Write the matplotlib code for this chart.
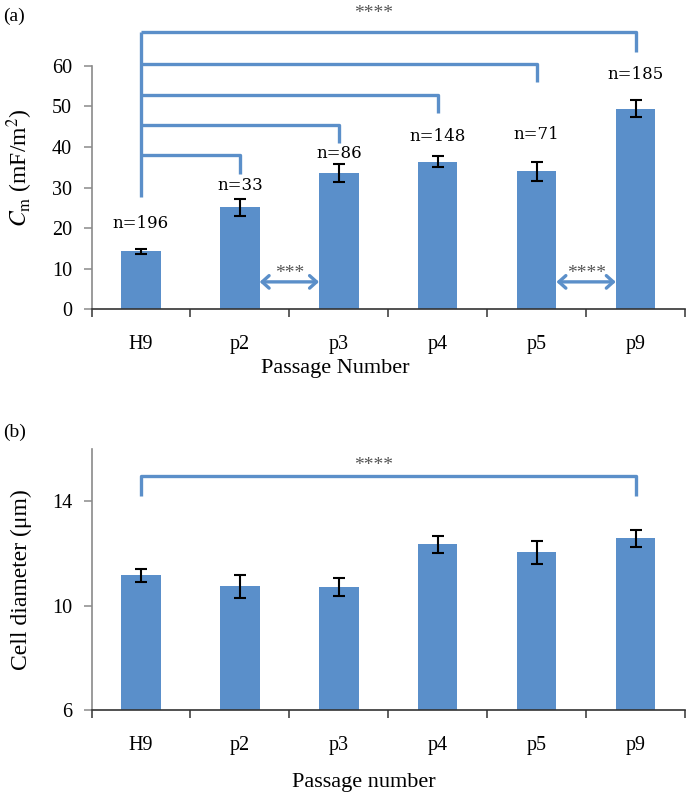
import matplotlib
matplotlib.use("Agg")
from matplotlib import pyplot as plt
import numpy as np

plt.rcParams["font.family"] = ["Liberation Serif", "DejaVu Serif"]
plt.rcParams["mathtext.fontset"] = "stix"

passages = ["H9", "p2", "p3", "p4", "p5", "p9"]

# (a) membrane capacitance
cm_mean = [14.2, 25.1, 33.5, 36.4, 34.0, 49.5]
cm_err = [0.5, 2.1, 2.2, 1.3, 2.3, 2.0]
n_cells = [196, 33, 86, 148, 71, 185]
n_label_y = [21.0, 30.4, 38.5, 42.7, 43.0, 58.0]

# brackets from H9 to each passage: (target, level, drop end)
cm_brackets = [(1, 38.0, 33.3), (2, 45.4, 41.0), (3, 52.9, 48.5),
               (4, 60.6, 56.1), (5, 68.3, 63.5)]
cm_stem_bottom = 27.7
cm_arrows = [(1, 2, "***"), (4, 5, "****")]

# (b) cell diameter
diam_mean = [11.17, 10.74, 10.72, 12.35, 12.04, 12.58]
diam_err = [0.25, 0.45, 0.34, 0.32, 0.45, 0.33]

BLUE = "#5B8FC9"
BAR = "#5A8FCA"
W = 0.4

fig = plt.figure(figsize=(6.87, 7.95), dpi=100)
ax1 = fig.add_axes([0.1332, 0.6113, 0.8639, 0.3057])
ax2 = fig.add_axes([0.1332, 0.1069, 0.8639, 0.3283])

x = np.arange(len(passages))


def style_axis(ax):
    ax.set_xlim(-0.5, len(passages) - 0.5)
    ax.spines["top"].set_visible(False)
    ax.spines["right"].set_visible(False)
    ax.spines["left"].set_color("#8a8a8a")
    ax.spines["left"].set_linewidth(1.2)
    ax.spines["bottom"].set_color("#333333")
    ax.spines["bottom"].set_linewidth(1.2)
    ax.set_xticks(x)
    ax.set_xticklabels(passages, fontsize=14.5)
    ax.set_xticks(np.arange(-0.5, len(passages)), minor=True)
    ax.tick_params(axis="x", which="major", length=0, pad=19)
    ax.tick_params(axis="x", which="minor", length=6, width=1.1,
                   color="#333333", direction="out")
    ax.tick_params(axis="y", length=6, width=1.1, color="#8a8a8a",
                   labelsize=14.5, pad=8)


# ---- (a)
ax1.bar(x, cm_mean, W, color=BAR, zorder=2)
ax1.errorbar(x, cm_mean, yerr=cm_err, fmt="none", ecolor="black",
             elinewidth=1.5, capsize=4, capthick=1.5, zorder=3)
style_axis(ax1)
ax1.set_ylim(0, 60)
ax1.set_yticks(range(0, 61, 10))

for xi, n, yy in zip(x, n_cells, n_label_y):
    ax1.text(xi, yy, f"n={n}", ha="center", va="center", fontsize=12,
             family=["DejaVu Serif"])

ax1.plot([0, 0], [cm_stem_bottom, cm_brackets[-1][1]], color=BLUE, lw=2.4,
         clip_on=False, solid_capstyle="butt")
for tgt, level, drop in cm_brackets:
    ax1.plot([0, tgt, tgt], [level, level, drop], color=BLUE, lw=2.4,
             clip_on=False, solid_joinstyle="round", solid_capstyle="butt")
ax1.text(2.35, 73.0, "****", ha="center", va="center", fontsize=14,
         color="#555555", clip_on=False)

for a, b, stars in cm_arrows:
    ax1.annotate("", xy=(b - W / 2, 6.7), xytext=(a + W / 2, 6.7),
                 arrowprops=dict(arrowstyle="<->,head_length=0.5,head_width=0.45",
                                 color=BLUE, lw=2.4, shrinkA=0, shrinkB=0))
    ax1.text((a + b) / 2, 8.8, stars, ha="center", va="center", fontsize=14,
             color="#555555")

ax1.set_ylabel(r"$C_\mathrm{m}$ (mF/m$^2$)", fontsize=17)
ax1.yaxis.set_label_coords(-0.096, 0.58)
fig.text(335 / 687, 1 - 368 / 795, "Passage Number", ha="center",
         va="center", fontsize=16)
fig.text(0.005, 1 - 16 / 795, "(a)", ha="left", va="center", fontsize=14)

# ---- (b)
ax2.bar(x, diam_mean, W, color=BAR, zorder=2)
ax2.errorbar(x, diam_mean, yerr=diam_err, fmt="none", ecolor="black",
             elinewidth=1.5, capsize=4, capthick=1.5, zorder=3)
style_axis(ax2)
ax2.set_ylim(6, 16)
ax2.set_yticks([6, 10, 14])

ax2.plot([0, 0, 5, 5], [14.2, 14.95, 14.95, 14.2], color=BLUE, lw=2.4,
         solid_joinstyle="round", solid_capstyle="butt")
ax2.text(2.35, 15.38, "****", ha="center", va="center", fontsize=14,
         color="#555555")

ax2.set_ylabel("Cell diameter (μm)", fontsize=17)
ax2.yaxis.set_label_coords(-0.1, 0.5)
fig.text(364 / 687, 1 - 782 / 795, "Passage number", ha="center",
         va="center", fontsize=16)
fig.text(0.005, 1 - 432 / 795, "(b)", ha="left", va="center", fontsize=14)

fig.savefig("out.png", dpi=100)
